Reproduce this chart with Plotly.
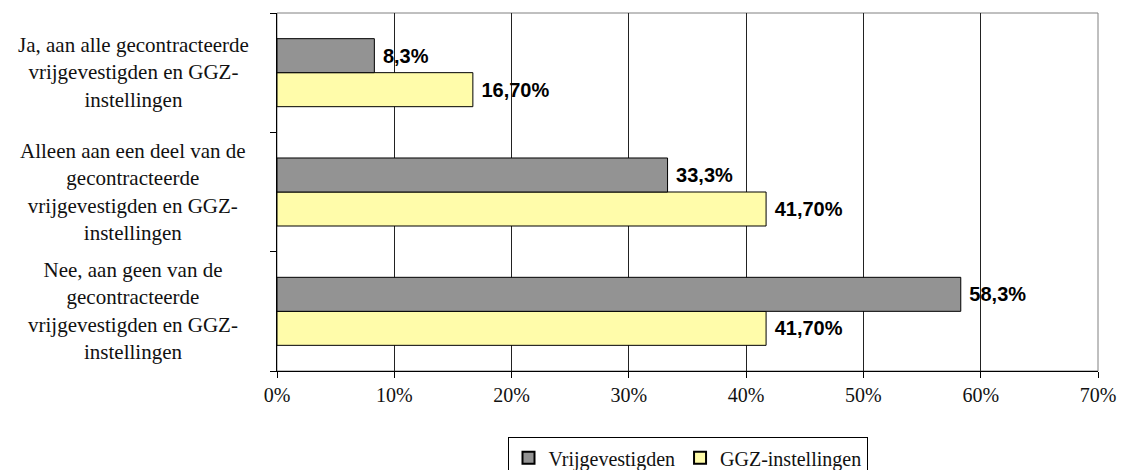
import plotly.graph_objects as go

categories = [
    "Ja, aan alle gecontracteerde<br>vrijgevestigden en GGZ-<br>instellingen",
    "Alleen aan een deel van de<br>gecontracteerde<br>vrijgevestigden en GGZ-<br>instellingen",
    "Nee, aan geen van de<br>gecontracteerde<br>vrijgevestigden en GGZ-<br>instellingen",
]
vrij_values = [8.3, 33.3, 58.3]
vrij_labels = ["8,3%", "33,3%", "58,3%"]
ggz_values = [16.7, 41.7, 41.7]
ggz_labels = ["16,70%", "41,70%", "41,70%"]
x_ticks = [0, 10, 20, 30, 40, 50, 60, 70]
x_ticktext = ["0%", "10%", "20%", "30%", "40%", "50%", "60%", "70%"]

serif = "Liberation Serif"
label_font = dict(family="Liberation Sans", size=20, color="black")
pad = "\u00a0"

fig = go.Figure()
fig.add_trace(go.Bar(
    y=categories, x=ggz_values, orientation="h", name="GGZ-instellingen",
    marker=dict(color="#FFFCAA", line=dict(color="#000000", width=1)),
    text=[pad + "<b>%s</b>" % t for t in ggz_labels], textposition="outside",
    textfont=label_font, cliponaxis=False, legendrank=2,
))
fig.add_trace(go.Bar(
    y=categories, x=vrij_values, orientation="h", name="Vrijgevestigden",
    marker=dict(color="#939393", line=dict(color="#000000", width=1)),
    text=[pad + "<b>%s</b>" % t for t in vrij_labels], textposition="outside",
    textfont=label_font, cliponaxis=False, legendrank=1,
))

for c in categories:
    fig.add_annotation(
        x=-0.175, xref="paper", y=c, yref="y", text=c, showarrow=False,
        xanchor="center", yanchor="middle", align="center",
        font=dict(family=serif, size=21, color="#111"),
    )

fig.add_shape(type="rect", xref="paper", yref="paper", x0=0, x1=1, y0=0, y1=1,
              line=dict(color="#808080", width=1), layer="below")

fig.update_layout(
    width=1122, height=470,
    margin=dict(l=277, r=24, t=13, b=99, autoexpand=False),
    paper_bgcolor="white", plot_bgcolor="white",
    barmode="group", bargap=0.43, bargroupgap=0,
    showlegend=True,
    legend=dict(
        orientation="h", x=0.5, xanchor="center", y=-0.185, yanchor="top",
        font=dict(family=serif, size=20, color="#111"),
        bordercolor="#000000", borderwidth=1, bgcolor="white",
        itemsizing="constant", tracegroupgap=0, itemwidth=30,
    ),
    xaxis=dict(
        range=[0, 70], tickvals=x_ticks, ticktext=x_ticktext,
        showgrid=True, gridcolor="#222222", gridwidth=1,
        showline=True, linecolor="#000000", linewidth=1,
        ticks="outside", ticklen=6, tickcolor="#000000",
        tickfont=dict(family=serif, size=20, color="#111"),
        zeroline=False, fixedrange=True, automargin=False,
    ),
    yaxis=dict(
        type="category", categoryorder="array", categoryarray=categories[::-1],
        showticklabels=False, tickson="boundaries", ticks="outside",
        ticklen=6, tickcolor="#000000",
        showline=True, linecolor="#000000", linewidth=1,
        showgrid=False, fixedrange=True, automargin=False,
    ),
)

fig.write_html(
    "out.html",
    config={"displayModeBar": False},
    post_script="document.body.style.margin='0';document.body.style.overflow='hidden';",
)
